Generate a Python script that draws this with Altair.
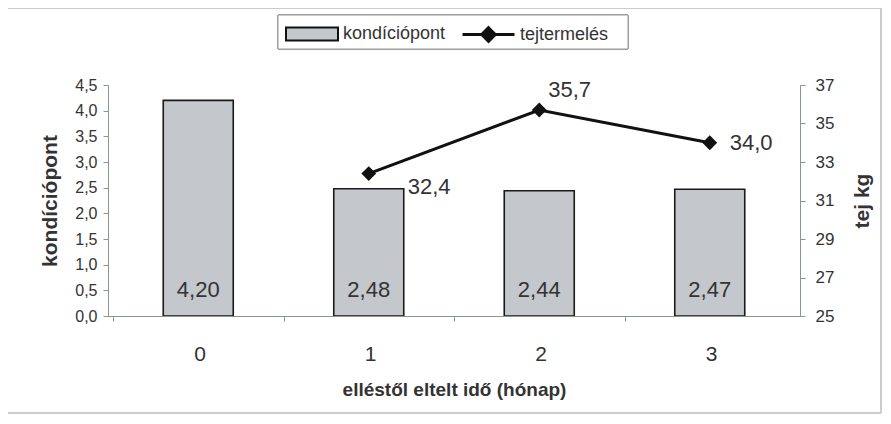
import altair as alt
import pandas as pd

months = [0, 1, 2, 3]
kond = [4.20, 2.48, 2.44, 2.47]
milk_months = [1, 2, 3]
milk = [32.4, 35.7, 34.0]
series = ["kondíciópont", "tejtermelés"]
left_ticks = [0, 0.5, 1, 1.5, 2, 2.5, 3, 3.5, 4, 4.5]
right_ticks = [25, 27, 29, 31, 33, 35, 37]

def comma(v, d):
    return f"{v:.{d}f}".replace(".", ",")

bars_df = pd.DataFrame({"m": months, "k": kond, "s": series[0],
                        "lab": [comma(v, 2) for v in kond], "zero": 0})
line_df = pd.DataFrame({"m": milk_months, "t": milk, "s2": series[1],
                        "lab": [comma(v, 1) for v in milk]})

W, H = 692, 231
FONT = "Liberation Sans"
TXT = "#333333"
AX = "#8a9490"
BARFILL = "#c4c7cc"

xscale = alt.Scale(domain=[-0.5, 3.5], nice=False, zero=False)
xaxis = alt.Axis(values=[-0.5, 0.5, 1.5, 2.5], labelExpr="datum.value < 3 ? format(datum.value + 0.5, 'd') : ''",
                 labelOffset=86.5, tickSize=5, tickColor=AX, domainColor=AX, grid=False,
                 labelFont=FONT, labelFontSize=21, labelColor=TXT, labelPadding=22,
                 labelOverlap=False, labelFlush=False, zindex=1,
                 title="elléstől eltelt idő (hónap)", titleFont=FONT, titleFontSize=19,
                 titleFontWeight="bold", titleColor=TXT, titlePadding=16)

legend_common = dict(title=None, orient="none", direction="horizontal",
                     labelFont=FONT, labelFontSize=18, labelColor=TXT,
                     symbolSize=2704, labelOffset=4, padding=0, symbolOpacity=1)

fill = alt.Fill("s:N", scale=alt.Scale(domain=[series[0]], range=[BARFILL]),
                legend=alt.Legend(legendX=177, legendY=-78,
                                  symbolType="M-1,-0.25H1V0.25H-1Z",
                                  symbolStrokeColor="#111111", symbolStrokeWidth=2,
                                  symbolFillColor=BARFILL, **legend_common))
stroke = alt.Stroke("s2:N", scale=alt.Scale(domain=[series[1]], range=["#111111"]),
                    legend=alt.Legend(legendX=353, legendY=-78,
                                      symbolType="M-1,0H1M0,-0.26L0.26,0L0,0.26L-0.26,0Z",
                                      symbolStrokeColor="#111111", symbolStrokeWidth=3,
                                      symbolFillColor="#111111", **legend_common))

lscale = alt.Scale(domain=[0, 4.5], nice=False)
laxis = alt.Axis(values=left_ticks,
                 labelExpr="replace(format(datum.value, '.1f'), '.', ',')",
                 grid=False, tickSize=5, tickColor=AX, domainColor=AX,
                 labelFont=FONT, labelFontSize=16, labelColor=TXT, labelPadding=6,
                 labelOverlap=False, labelFlush=False, zindex=1,
                 title="kondíciópont", titleFont=FONT, titleFontSize=21,
                 titleFontWeight="bold", titleColor=TXT, titlePadding=14)

frame = alt.Chart(bars_df).mark_rect(filled=False, stroke="#c8c8c8", strokeWidth=1).encode(
    x=alt.value(-102), x2=alt.value(773), y=alt.value(-77), y2=alt.value(328))
legend_box = alt.Chart(bars_df).mark_rect(fill="white", stroke="#9a9a9a", strokeWidth=1).encode(
    x=alt.value(170), x2=alt.value(520), y=alt.value(-70), y2=alt.value(-36))

bars = alt.Chart(bars_df).mark_bar(size=70, stroke="#1a1a1a", strokeWidth=1.6).encode(
    x=alt.X("m:Q", scale=xscale, axis=xaxis),
    y=alt.Y("k:Q", scale=lscale, axis=laxis),
    fill=fill,
)
bar_text = alt.Chart(bars_df).mark_text(font=FONT, fontSize=22, color=TXT, baseline="middle", dy=-26).encode(
    x=alt.X("m:Q", scale=xscale, axis=xaxis),
    y=alt.Y("zero:Q", scale=lscale, axis=laxis),
    text="lab:N",
)
left = alt.layer(frame, legend_box, bars, bar_text)

rscale = alt.Scale(domain=[25, 37], nice=False, zero=False)
raxis = alt.Axis(orient="right", values=right_ticks, grid=False,
                 tickSize=5, tickColor=AX, domainColor=AX,
                 labelFont=FONT, labelFontSize=17, labelColor=TXT, labelPadding=10,
                 labelOverlap=False, labelFlush=False, zindex=1,
                 title="tej kg", titleFont=FONT, titleFontSize=21, titleAngle=270,
                 titleFontWeight="bold", titleColor=TXT, titlePadding=39)

line = alt.Chart(line_df).mark_line(strokeWidth=3).encode(
    x=alt.X("m:Q", scale=xscale, axis=xaxis), y=alt.Y("t:Q", scale=rscale, axis=raxis), stroke=stroke)
pts = alt.Chart(line_df).mark_point(shape="diamond", filled=True, size=220, color="#111111", opacity=1).encode(
    x=alt.X("m:Q", scale=xscale, axis=xaxis), y=alt.Y("t:Q", scale=rscale, axis=raxis))

def lab(month, dx, dy):
    return alt.Chart(line_df).transform_filter(alt.datum.m == month).mark_text(
        font=FONT, fontSize=22, color=TXT, dx=dx, dy=dy, align="left", baseline="middle").encode(
        x=alt.X("m:Q", scale=xscale, axis=xaxis), y=alt.Y("t:Q", scale=rscale, axis=raxis), text="lab:N")

right = alt.layer(line, pts, lab(1, 39, 13), lab(2, 9, -20), lab(3, 20, 0))

chart = alt.layer(left, right).resolve_scale(y="independent").properties(
    width=W, height=H,
    autosize=alt.AutoSizeParams(type="none"),
    padding={"left": 100, "top": 77, "right": 83, "bottom": 100},
    background="white",
).configure_view(strokeWidth=0)

chart.save("out.html", embed_options={"renderer": "svg", "actions": False})
